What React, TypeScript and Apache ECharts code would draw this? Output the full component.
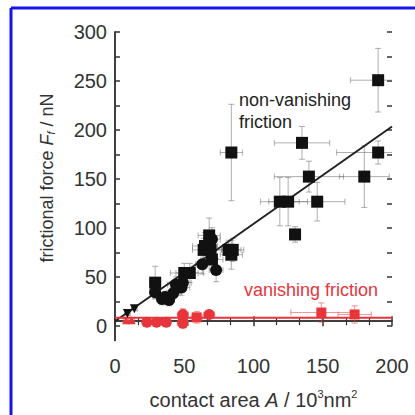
import React, { useEffect, useRef } from "react";
import * as echarts from "echarts";

// [x, y, xErr, yErr]
const blackSquares: number[][] = [
  [190, 250, 20, 33],
  [190, 175, 30, 12],
  [180, 150, 18, 32],
  [84, 175, 8, 50],
  [135, 185, 20, 17],
  [140, 150, 25, 16],
  [119, 124, 14, 25],
  [125, 124, 14, 25],
  [146, 124, 20, 20],
  [130, 90, 4, 8],
  [68, 89, 8, 18],
  [65, 78, 9, 14],
  [64, 74, 8, 12],
  [69, 74, 8, 10],
  [82, 74, 9, 10],
  [85, 74, 8, 12],
  [84, 69, 8, 15],
  [50, 50, 10, 10],
  [54, 50, 10, 10],
  [29, 40, 4, 17],
  [70, 64, 8, 10],
];
const blackCircles: number[][] = [
  [70, 85, 6, 12],
  [63, 59, 5, 10],
  [73, 53, 5, 12],
  [49, 40, 6, 8],
  [48, 35, 6, 8],
  [42, 29, 5, 6],
  [44, 38, 6, 8],
  [29, 30, 4, 6],
  [34, 23, 4, 6],
  [36, 25, 4, 6],
  [39, 22, 4, 6],
];
const blackTriangles: number[][] = [
  [9, 8, 2, 2],
  [14, 13, 2, 2],
];
const redCircles: number[][] = [
  [23, -1, 3, 3],
  [30, -1, 3, 3],
  [37, -1, 3, 3],
  [49, 7, 4, 5],
  [49, -2, 4, 4],
  [68, 7, 4, 4],
];
const redSquares: number[][] = [
  [49, 3, 3, 10],
  [59, 4, 4, 6],
  [149, 9, 22, 10],
  [173, 7, 12, 9],
];
const redTriangles: number[][] = [
  [8, 1, 2, 2],
  [12, 1, 2, 2],
];
const blackFit: number[][] = [
  [0, 0],
  [200, 202],
];
const redFit: number[][] = [
  [0, 3.5],
  [200, 3.5],
];
const xRange = [0, 200];
const yRange = [-20, 300];
const yTickRange = [0, 300];

const FONT = "Liberation Sans, Arial, sans-serif";
const BLACK = "#111";
const RED = "#e8353b";
const AXIS = "#333";

function errRender(color: string) {
  return (params: any, api: any) => {
    const x = api.value(0), y = api.value(1), ex = api.value(2), ey = api.value(3);
    const c = api.coord([x, y]);
    const l = api.coord([x - ex, y]);
    const r = api.coord([x + ex, y]);
    const t = api.coord([x, y + ey]);
    const b = api.coord([x, y - ey]);
    const cap = 3;
    const style = { stroke: color, lineWidth: 1 };
    const children: any[] = [
      { type: "line", shape: { x1: l[0], y1: c[1], x2: r[0], y2: c[1] }, style },
      { type: "line", shape: { x1: l[0], y1: c[1] - cap, x2: l[0], y2: c[1] + cap }, style },
      { type: "line", shape: { x1: r[0], y1: c[1] - cap, x2: r[0], y2: c[1] + cap }, style },
      { type: "line", shape: { x1: c[0], y1: t[1], x2: c[0], y2: b[1] }, style },
      { type: "line", shape: { x1: c[0] - cap, y1: t[1], x2: c[0] + cap, y2: t[1] }, style },
      { type: "line", shape: { x1: c[0] - cap, y1: b[1], x2: c[0] + cap, y2: b[1] }, style },
    ];
    return { type: "group", children };
  };
}

export default function App() {
  const ref = useRef<HTMLDivElement>(null);
  useEffect(() => {
    const chart = echarts.init(ref.current!, null, { renderer: "svg" });
    const axisLine = { show: true, lineStyle: { color: AXIS, width: 1.5 } };
    const tickStyle = { color: AXIS, width: 1.5 };
    const pts = (d: number[][]) => d.map((p) => [p[0], p[1]]);
    const option: any = {
      animation: false,
      backgroundColor: "#fff",
      grid: [
        { left: 115, right: 23, top: 32, bottom: 69 },
        { left: 115, right: 23, top: 32, bottom: 89 },
      ],
      xAxis: [
        {
          type: "value",
          gridIndex: 0,
          min: xRange[0],
          max: xRange[1],
          interval: 50,
          axisLine,
          splitLine: { show: false },
          axisTick: { inside: true, length: 5, lineStyle: tickStyle },
          minorTick: { show: true, splitNumber: 3, length: 4, lineStyle: { color: AXIS, width: 1.2 } },
          axisLabel: { fontSize: 20, color: "#333", fontFamily: FONT, margin: 15 },
          name: "{n|contact area }{i|A}{n| / 10}{s|3}{n|nm}{s|2}",
          nameLocation: "middle",
          nameGap: 48,
          nameTextStyle: {
            rich: {
              n: { fontSize: 20, color: "#333", fontFamily: FONT },
              i: { fontSize: 20, color: "#333", fontFamily: FONT, fontStyle: "italic" },
              s: { fontSize: 11, color: "#333", fontFamily: FONT, verticalAlign: "top", padding: [0, 0, 12, 0] },
            },
          },
        },
        {
          type: "value",
          gridIndex: 0,
          position: "top",
          min: xRange[0],
          max: xRange[1],
          interval: 50,
          axisLine,
          splitLine: { show: false },
          axisTick: { inside: true, length: 5, lineStyle: tickStyle },
          minorTick: { show: true, splitNumber: 3, length: 4, lineStyle: { color: AXIS, width: 1.2 } },
          axisLabel: { show: false },
        },
        {
          type: "value",
          gridIndex: 1,
          min: xRange[0],
          max: xRange[1],
          show: false,
        },
      ],
      yAxis: [
        {
          type: "value",
          gridIndex: 0,
          min: yRange[0],
          max: yRange[1],
          axisLine,
          splitLine: { show: false },
          axisTick: { show: false },
          axisLabel: { show: false },
        },
        {
          type: "value",
          gridIndex: 0,
          position: "right",
          min: yRange[0],
          max: yRange[1],
          axisLine,
          splitLine: { show: false },
          axisTick: { show: false },
          axisLabel: { show: false },
        },
        {
          type: "value",
          gridIndex: 1,
          min: yTickRange[0],
          max: yTickRange[1],
          interval: 50,
          axisLine: { show: false },
          splitLine: { show: false },
          axisTick: { inside: true, length: 5, lineStyle: tickStyle },
          minorTick: { show: true, splitNumber: 2, length: 5, lineStyle: tickStyle },
          axisLabel: { fontSize: 20, color: "#333", fontFamily: FONT, margin: 8 },
        },
        {
          type: "value",
          gridIndex: 1,
          position: "right",
          min: yTickRange[0],
          max: yTickRange[1],
          interval: 50,
          axisLine: { show: false },
          splitLine: { show: false },
          axisTick: { inside: true, length: 5, lineStyle: tickStyle },
          minorTick: { show: true, splitNumber: 2, length: 5, lineStyle: tickStyle },
          axisLabel: { show: false },
        },
      ],
      graphic: [
        { type: "line", shape: { x1: 11, y1: 8, x2: 420, y2: 8 }, style: { stroke: "#1414f0", lineWidth: 3 } },
        { type: "line", shape: { x1: 11, y1: 8, x2: 11, y2: 420 }, style: { stroke: "#1414f0", lineWidth: 3 } },
        {
          type: "text",
          x: 47,
          y: 178,
          rotation: Math.PI / 2,
          style: {
            text: "{n|frictional force }{i|F}{s|f}{n| / nN}",
            align: "center",
            verticalAlign: "middle",
            rich: {
              n: { fontSize: 18, fill: "#333", fontFamily: FONT },
              i: { fontSize: 18, fill: "#333", fontFamily: FONT, fontStyle: "italic" },
              s: { fontSize: 11, fill: "#333", fontFamily: FONT, fontStyle: "italic", verticalAlign: "bottom", padding: [8, 0, 0, 0] },
            },
          },
        },
        {
          type: "text",
          left: 239,
          top: 89,
          style: { text: "non-vanishing\nfriction", fontSize: 18, lineHeight: 22, fill: "#222", fontFamily: FONT },
        },
        {
          type: "text",
          left: 244,
          top: 281,
          style: { text: "vanishing friction", fontSize: 18, fill: RED, fontFamily: FONT },
        },
      ],
      series: [
        {
          type: "custom",
          renderItem: errRender("rgba(110,110,110,0.55)"),
          data: [...blackSquares, ...blackCircles, ...blackTriangles],
          clip: true,
          z: 1,
        },
        {
          type: "custom",
          renderItem: errRender("rgba(230,80,80,0.6)"),
          data: [...redCircles, ...redSquares, ...redTriangles],
          clip: true,
          z: 1,
        },
        { type: "line", data: blackFit, symbol: "none", lineStyle: { color: "#222", width: 2 }, z: 2 },
        { type: "line", data: redFit, symbol: "none", lineStyle: { color: RED, width: 2 }, z: 2 },
        { type: "scatter", data: pts(blackSquares), symbol: "rect", symbolSize: 12, itemStyle: { color: BLACK, opacity: 1 }, z: 3 },
        { type: "scatter", data: pts(blackCircles), symbol: "circle", symbolSize: 12, itemStyle: { color: BLACK, opacity: 1 }, z: 3 },
        { type: "scatter", data: pts(blackTriangles), symbol: "triangle", symbolRotate: 180, symbolSize: 9, itemStyle: { color: BLACK, opacity: 1 }, z: 3 },
        { type: "scatter", data: pts(redCircles), symbol: "circle", symbolSize: 11, itemStyle: { color: RED, opacity: 1 }, z: 3 },
        { type: "scatter", data: pts(redSquares), symbol: "rect", symbolSize: 10, itemStyle: { color: RED, opacity: 1 }, z: 3 },
        { type: "scatter", data: pts(redTriangles), symbol: "triangle", symbolSize: 8, itemStyle: { color: RED, opacity: 1 }, z: 3 },
      ],
    };
    chart.setOption(option);
    return () => chart.dispose();
  }, []);
  return (
    <div
      ref={ref}
      style={{ position: "fixed", left: 0, top: 0, width: 415, height: 415, background: "#fff" }}
    />
  );
}
